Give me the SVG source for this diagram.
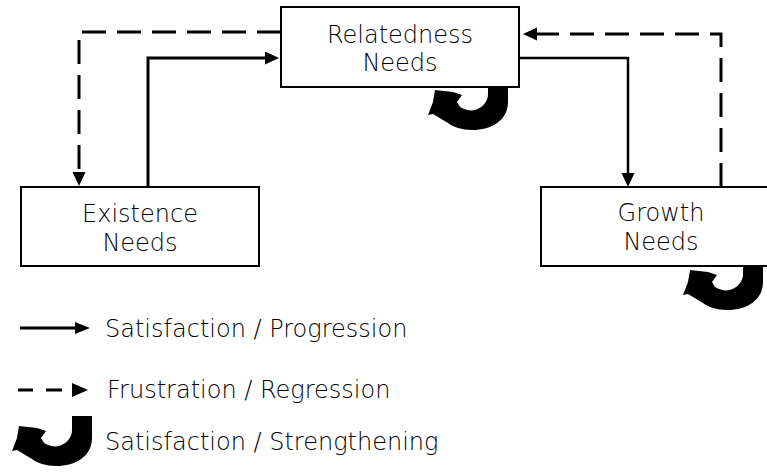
<svg xmlns="http://www.w3.org/2000/svg" width="767" height="472" viewBox="0 0 767 472">
<style>
.box{fill:#fff;stroke:#000;stroke-width:2}
.lbl{font-family:"DejaVu Sans","Liberation Sans",sans-serif;font-size:24px;font-weight:200;fill:#000;text-anchor:middle}
.leg{font-family:"DejaVu Sans","Liberation Sans",sans-serif;font-size:24px;font-weight:200;fill:#000}
.solid{fill:none;stroke:#000;stroke-width:3;marker-end:url(#ah)}
.dash{fill:none;stroke:#000;stroke-width:3;stroke-dasharray:24 11;marker-end:url(#ah)}
.curl{fill:#000}
</style>
<defs>
<marker id="ah" markerUnits="userSpaceOnUse" markerWidth="16" markerHeight="16" refX="0" refY="6.5" orient="auto">
<path d="M0,0 L14,6.5 L0,13 Z" fill="#000"/>
</marker>
<path id="curlShape" d="M68,0 L88,0 L88,22 C88,40 72,50 52,50 C42,50 33,47 28,43 L13,34 L8,35 L13,22 L15,10 L33,12 L42,15 L37,22 L40,27 C45,30 50,31 55,30 C62,28 68,22 68,14 Z"/>
</defs>
<rect width="767" height="472" fill="#fff"/>
<g id="curls">
<use href="#curlShape" class="curl" transform="translate(420,80)"/>
<use href="#curlShape" class="curl" transform="translate(675,260)"/>
</g>
<g id="connectors">
<path class="solid" d="M148,187 V58 H265"/>
<path class="solid" d="M519,58 H628 V173" style="stroke-width:2.5"/>
<path class="dash" d="M281,32 H79 V172"/>
<path class="dash" d="M721,187 V34 H537"/>
</g>
<g id="relatedness">
<rect class="box" x="281" y="7" width="238" height="80"/>
<text class="lbl" x="400" y="43">Relatedness</text>
<text class="lbl" x="400" y="71">Needs</text>
</g>
<g id="existence">
<rect class="box" x="21" y="187" width="238" height="79"/>
<text class="lbl" x="140" y="222">Existence</text>
<text class="lbl" x="140" y="251">Needs</text>
</g>
<g id="growth">
<rect class="box" x="541" y="187" width="240" height="79"/>
<text class="lbl" x="661" y="221">Growth</text>
<text class="lbl" x="661" y="250">Needs</text>
</g>
<g id="legend">
<line x1="20" y1="328" x2="76" y2="328" stroke="#000" stroke-width="3"/>
<path d="M75,322 L90,328 L75,334 Z" fill="#000"/>
<text class="leg" x="105" y="337">Satisfaction / Progression</text>
<line x1="18" y1="390" x2="33" y2="390" stroke="#000" stroke-width="3"/>
<line x1="46" y1="390" x2="62" y2="390" stroke="#000" stroke-width="3"/>
<path d="M72,383 L88,390 L72,397 Z" fill="#000"/>
<text class="leg" x="107" y="398">Frustration / Regression</text>
<use href="#curlShape" class="curl" transform="translate(4,416)"/>
<text class="leg" x="105" y="450">Satisfaction / Strengthening</text>
</g>
</svg>
